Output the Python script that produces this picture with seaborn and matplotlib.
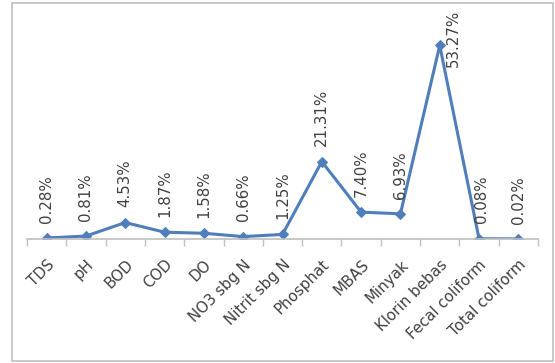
import matplotlib
matplotlib.use("Agg")
import matplotlib.pyplot as plt
import seaborn as sns
import pandas as pd
from matplotlib.patches import Rectangle

categories = ["TDS", "pH", "BOD", "COD", "DO", "NO3 sbg N", "Nitrit sbg N",
              "Phosphat", "MBAS", "Minyak", "Klorin bebas", "Fecal coliform",
              "Total coliform"]
values = [0.28, 0.81, 4.53, 1.87, 1.58, 0.66, 1.25, 21.31, 7.40, 6.93, 53.27, 0.08, 0.02]
labels = ["0.28%", "0.81%", "4.53%", "1.87%", "1.58%", "0.66%", "1.25%",
          "21.31%", "7.40%", "6.93%", "53.27%", "0.08%", "0.02%"]

df = pd.DataFrame({"cat": categories, "x": range(len(categories)), "val": values})

sns.set_theme(style="white")
plt.rcParams["font.family"] = ["DejaVu Sans"]

fig = plt.figure(figsize=(5.55, 3.63), dpi=100)
ax = fig.add_axes([27/555, 1-239/363, (538-27)/555, (239-21)/363])

line_color = "#4F7EBB"
sns.lineplot(data=df, x="x", y="val", ax=ax, color=line_color, linewidth=2.2,
             marker="D", markersize=5.5, markeredgecolor=line_color,
             markerfacecolor=line_color, sort=False)

ax.set_xlim(-0.5, len(categories) - 0.5)
ax.set_ylim(0, 60)
ax.set_xlabel("")
ax.set_ylabel("")
ax.set_yticks([])
for s in ["top", "right", "left"]:
    ax.spines[s].set_visible(False)
ax.spines["bottom"].set_color("#BFBFBF")
ax.spines["bottom"].set_linewidth(1.2)

ax.set_xticks([i - 0.5 for i in range(len(categories) + 1)])
ax.set_xticklabels([])
ax.tick_params(axis="x", which="major", length=5, width=1, color="#BFBFBF",
               direction="out", bottom=True)

ax.set_xticks(range(len(categories)), minor=True)
ax.set_xticklabels(categories, minor=True, rotation=45, ha="right",
                   rotation_mode="anchor", fontsize=10.8, color="#404040")
ax.tick_params(axis="x", which="minor", length=0, pad=13)

text_color = "#404040"
for i, (v, lab) in enumerate(zip(values, labels)):
    if categories[i] == "Klorin bebas":
        ax.annotate(lab, (i, v), xytext=(9.5, 5), textcoords="offset points",
                    rotation=90, ha="center", va="center", fontsize=10.8,
                    color=text_color, annotation_clip=False)
    else:
        dx = 2 if categories[i] == "Fecal coliform" else 0
        ax.annotate(lab, (i, v), xytext=(dx, 11), textcoords="offset points",
                    rotation=90, ha="center", va="bottom", fontsize=10.8,
                    color=text_color)

fig.patches.append(Rectangle((12/555, 2/363), (553-12)/555, (360-2)/363,
                             transform=fig.transFigure, fill=False,
                             edgecolor="#BFBFBF", linewidth=1.2))

fig.savefig("out.png", dpi=100, facecolor="white")
